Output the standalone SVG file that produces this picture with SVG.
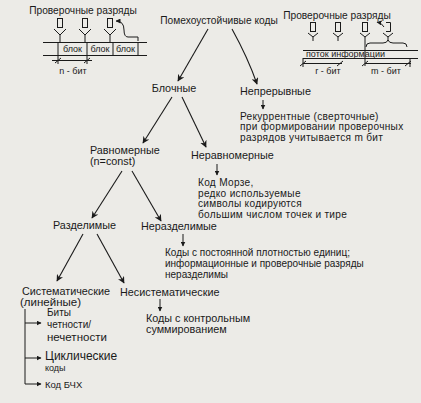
<svg xmlns="http://www.w3.org/2000/svg" width="421" height="403" viewBox="0 0 421 403">
<defs>
<marker id="ah" viewBox="0 0 10 10" refX="9" refY="5" markerWidth="7" markerHeight="7" orient="auto-start-reverse" markerUnits="userSpaceOnUse">
<path d="M0,0 L10,5 L0,10 L3,5 z" fill="#1a1a1a"/>
</marker>
<marker id="sah" viewBox="0 0 10 10" refX="9" refY="5" markerWidth="5" markerHeight="5" orient="auto-start-reverse" markerUnits="userSpaceOnUse">
<path d="M0,0 L10,5 L0,10 z" fill="#1a1a1a"/>
</marker>
</defs>
<style>
text{font-family:"Liberation Sans",Arial,sans-serif;font-size:10.8px;fill:#1a1a1a}
.s{font-size:9px}
.r{font-size:10.2px}
.t{font-size:10px}
.b{font-size:11.5px}
.m{font-size:10.1px;letter-spacing:0.3px}
.ln{stroke:#1a1a1a;stroke-width:1;fill:none}
.c{stroke:#1a1a1a;stroke-width:1.1;fill:none;marker-end:url(#ah)}
.cs{stroke:#1a1a1a;stroke-width:1;fill:none;marker-end:url(#sah)}
</style>
<rect width="421" height="403" fill="#ecebe7"/>

<g id="fig-left">
<text x="83" y="14" text-anchor="middle" class="r">Проверочные разряды</text>
<rect class="ln" x="57.5" y="18.5" width="5" height="9"/>
<rect class="ln" x="82.5" y="18.5" width="5" height="9"/>
<rect class="ln" x="107.5" y="18.5" width="5" height="9"/>
<path class="ln" d="M54,29 L60,35 L66,29 M60,35 V42 M79,29 L85,35 L91,29 M85,35 V42 M104,29 L110,35 L116,29 M110,35 V42"/>
<path class="cs" d="M138,41 V37 H128 Q124,37 124,30 Q124,21 116,21"/>
<path class="ln" d="M43,42.5 H147 M43,55.5 H147 M58,42 V64 M87,42 V64 M113,42 V55 M138,42 V55"/>
<text class="s" x="72.5" y="52" text-anchor="middle">блок</text>
<text class="s" x="100" y="52" text-anchor="middle">блок</text>
<text class="s" x="125.5" y="52" text-anchor="middle">блок</text>
<path class="ln" d="M52,60.5 H92 M55,63 L61,58 M84,63 L90,58"/>
<text class="s" x="73" y="74" text-anchor="middle">n - бит</text>
</g>

<g id="fig-right">
<text x="337" y="19" text-anchor="middle" class="r">Проверочные разряды</text>
<rect class="ln" x="310.5" y="22.5" width="5" height="9"/>
<rect class="ln" x="335.5" y="22.5" width="5" height="9"/>
<rect class="ln" x="362.5" y="22.5" width="5" height="9"/>
<path class="ln" d="M386,22.5 H390.5 V31.5 H386"/>
<path class="ln" d="M308,33 L313,37 L318,33 M313,37 V41 M333,33 L338,37 L343,33 M338,37 V41 M360,33 L365,37 L370,33 M365,37 V66 M383,33 L388,37 L393,33 M388,37 V41"/>
<path class="cs" d="M384,27 Q382,23 377,22"/>
<path class="ln" d="M366,47 Q366,43 370,43 H383 Q387,43 388,40 Q389,43 393,43 H403 Q407,43 407,47"/>
<path class="ln" d="M303,50.5 H418" stroke-width="1.5"/>
<text class="s" x="306" y="57">поток информации</text>
<path class="ln" d="M303,58.5 H418 M303,58 V67 M303,63.5 H342 M300,66 L306,61 M337,66 L343,61 M365,63.5 H411 M362,66 L368,61 M405,66 L411,61 M410,58 V67"/>
<text class="s" x="328" y="74" text-anchor="middle">r - бит</text>
<text class="s" x="386" y="74" text-anchor="middle">m - бит</text>
</g>

<g id="n-root"><text x="219" y="24" text-anchor="middle" class="r">Помехоустойчивые коды</text></g>
<g id="n-block"><text x="174" y="92" text-anchor="middle">Блочные</text></g>
<g id="n-cont"><text x="240" y="95">Непрерывные</text></g>
<g id="n-recur">
<text class="m" x="240" y="119.5">Рекуррентные (сверточные)</text>
<text class="m" x="240" y="130">при формировании проверочных</text>
<text class="m" x="240" y="140.5">разрядов учитывается m бит</text>
</g>
<g id="n-uniform">
<text x="90" y="154">Равномерные</text>
<text x="90" y="165">(n=const)</text>
</g>
<g id="n-nonuniform"><text x="191" y="159">Неравномерные</text></g>
<g id="n-morse">
<text class="m" x="198" y="186">Код Морзе,</text>
<text class="m" x="198" y="196.5">редко используемые</text>
<text class="m" x="198" y="207">символы кодируются</text>
<text class="m" x="198" y="217.5">большим числом точек и тире</text>
</g>
<g id="n-sep"><text x="53" y="229">Разделимые</text></g>
<g id="n-nonsep"><text x="141" y="230">Неразделимые</text></g>
<g id="n-const">
<text class="t" x="165" y="256">Коды с постоянной плотностью единиц;</text>
<text class="t" x="165" y="267">информационные и проверочные разряды</text>
<text class="t" x="165" y="278">неразделимы</text>
</g>
<g id="n-sys">
<text x="22" y="295">Систематические</text>
<text x="20" y="306" class="b">(линейные)</text>
</g>
<g id="n-nonsys"><text x="120" y="296">Несистематические</text></g>
<g id="n-checksum">
<text x="146" y="322">Коды с контрольным</text>
<text x="146" y="333">суммированием</text>
</g>
<g id="n-parity">
<text x="47" y="316" class="t">Биты</text>
<text x="47" y="328" class="t">четности/</text>
<text x="47" y="341" class="b">нечетности</text>
</g>
<g id="n-cyclic">
<text x="45" y="360" style="font-size:12px">Циклические</text>
<text x="45" y="371" class="s">коды</text>
</g>
<g id="n-bch"><text x="45" y="388" style="font-size:9.5px">Код БЧХ</text></g>

<g id="connectors">
<path class="c" d="M208,29 L178,81"/>
<path class="c" d="M232,29 Q248,58 257,84"/>
<path class="cs" d="M263,100 V109"/>
<path class="c" d="M172,97 L143,143"/>
<path class="c" d="M182,97 L206,147"/>
<path class="cs" d="M217,164 V175"/>
<path class="c" d="M122,171 L92,218"/>
<path class="c" d="M132,171 L161,221"/>
<path class="cs" d="M183,234 V246"/>
<path class="c" d="M83,234 L57,281"/>
<path class="c" d="M97,234 L124,283"/>
<path class="cs" d="M160,299 V311"/>
<path class="ln" d="M25,309 V384"/>
<path class="cs" d="M25,323 H41"/>
<path class="cs" d="M25,358 H41"/>
<path class="cs" d="M25,384 H41"/>
</g>
</svg>
